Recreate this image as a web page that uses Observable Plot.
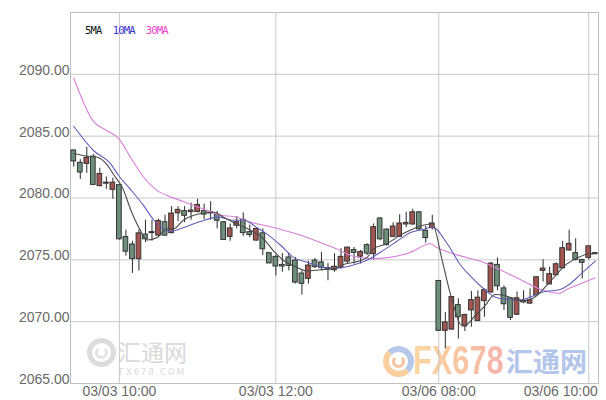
<!DOCTYPE html>
<html>
<head>
<meta charset="utf-8">
<script src="https://cdn.jsdelivr.net/npm/d3@7"></script>
<script src="https://cdn.jsdelivr.net/npm/@observablehq/plot@0.6"></script>
<style>
  html, body { margin: 0; padding: 0; background: #fff; }
  #wrap { position: relative; width: 606px; height: 400px; overflow: hidden; }
  #wm { position: absolute; left: 0; top: 0; width: 606px; height: 400px; z-index: 0; }
  #chart { position: absolute; left: 0; top: 0; z-index: 1; }
  #legend { position: absolute; left: 85px; top: 24px; z-index: 2; font: 10.5px "DejaVu Sans Mono", monospace; letter-spacing: -0.8px; white-space: pre; }
  .ring { position: absolute; border-radius: 50%; box-sizing: border-box; }
  .fx { position:absolute; left:413px; top:337px; font:bold 41px 'Liberation Sans'; transform:scaleX(0.75); transform-origin:left top;
        background: linear-gradient(90deg, #fbd6a2 0%, #f8c3a2 60%, #f4b2ab 100%); -webkit-background-clip: text; background-clip: text; color: transparent; }
</style>
</head>
<body>
<div id="wrap">
  <div id="wm">
    <div class="ring" style="left:87px;top:338px;width:29px;height:29px;border:5px solid #dcdcdc;"></div>
    <div class="ring" style="left:95px;top:346px;width:13px;height:13px;border:3px solid #e4e4e4;border-top-color:transparent;"></div>
    <div style="position:absolute;left:118px;top:334px;font:23px 'Noto Sans CJK SC';color:#d9d9d9;">汇通网</div>
    <div style="position:absolute;left:119px;top:367px;font:9px 'DejaVu Sans';letter-spacing:1.6px;color:#dcdcdc;">FX678.COM</div>
    <div class="ring" style="left:383px;top:346px;width:31px;height:31px;border:6px solid #b7c8ea;border-left-color:#f9cf9f;border-bottom-color:#f9cf9f;"></div>
    <div class="ring" style="left:392px;top:355px;width:13px;height:13px;border:3px solid #f6c39a;border-top-color:transparent;"></div>
    <div class="fx">FX678</div>
    <div style="position:absolute;left:506px;top:341px;font:bold 27px 'Noto Sans CJK SC';color:#b3c5ea;">汇通网</div>
  </div>
  <div id="chart"></div>
  <div id="legend"><span style="color:#111">5MA</span>  <span style="color:#3333cc">10MA</span>  <span style="color:#ee44cc">30MA</span></div>
</div>
<script>
// ---- data ----
const candleOpen = [2083.8,2082.8,2082.8,2083.3,2081.0,2081.2,2080.7,2081.0,2076.8,2076.2,
  2075.1,2077.0,2077.2,2077.0,2078.0,2077.2,2078.8,2078.9,2078.9,2078.9,
  2078.9,2078.8,2078.6,2078.0,2076.9,2077.8,2078.2,2077.2,2076.6,2077.1,
  2075.5,2075.2,2074.55,2075.15,2074.9,2073.85,2073.5,2074.9,2074.75,2074.3,
  2074.2,2074.4,2074.9,2075.75,2075.3,2076.15,2075.5,2078.3,2077.4,2076.9,
  2076.9,2077.9,2077.9,2078.8,2077.3,2077.6,2073.25,2069.3,2069.4,2071.3,
  2069.65,2070.95,2070.1,2071.7,2072.4,2074.55,2072.65,2071.85,2070.6,2071.65,
  2071.5,2072.2,2074.15,2073.05,2073.8,2074.35,2075.8,2075.5,2074.95,2075.2,2075.5];
const candleHigh = [2083.9,2083.1,2084.1,2083.5,2082.4,2081.7,2081.6,2081.0,2077.4,2076.5,
  2077.4,2078.2,2078.2,2078.3,2078.6,2079.3,2079.3,2079.3,2079.6,2079.9,
  2079.5,2079.7,2078.9,2078.1,2077.9,2078.5,2078.8,2077.8,2077.6,2077.5,
  2075.6,2075.35,2075.5,2075.55,2075.2,2074.1,2074.9,2075.1,2075.6,2074.7,
  2075.5,2075.9,2076.0,2076.0,2075.75,2076.3,2077.9,2078.4,2077.5,2078.0,
  2078.65,2078.85,2079.1,2078.9,2077.7,2078.6,2073.3,2070.75,2072.0,2071.85,
  2070.6,2072.45,2072.5,2072.65,2074.8,2075.15,2072.9,2071.95,2072.4,2072.5,
  2072.65,2073.6,2075.0,2074.4,2074.75,2076.5,2077.4,2076.7,2075.0,2076.15,2075.55];
const candleLow = [2082.5,2081.5,2082.0,2081.0,2080.9,2080.7,2079.9,2076.6,2075.3,2073.9,
  2074.1,2076.4,2076.5,2076.9,2076.9,2077.1,2078.1,2078.0,2078.2,2078.8,
  2078.25,2078.2,2077.5,2076.6,2076.5,2077.5,2076.9,2076.8,2076.5,2075.35,
  2074.7,2073.7,2074.0,2074.1,2073.05,2072.15,2073.05,2074.3,2074.1,2073.3,
  2074.0,2074.25,2074.65,2074.65,2074.65,2075.35,2074.95,2076.55,2076.1,2076.8,
  2076.8,2077.6,2077.8,2077.4,2076.35,2077.4,2069.2,2067.8,2069.3,2068.6,
  2069.2,2069.55,2070.0,2070.35,2072.3,2072.5,2070.9,2070.1,2070.5,2071.45,
  2071.4,2072.1,2073.2,2073.0,2073.7,2074.3,2075.7,2074.9,2073.45,2075.0,2075.45];
const candleClose = [2083.0,2082.1,2083.2,2081.1,2081.9,2081.2,2081.2,2076.7,2075.7,2075.1,
  2077.1,2076.7,2077.2,2078.1,2077.0,2078.7,2079.0,2078.6,2078.95,2079.4,
  2078.7,2078.8,2078.2,2076.65,2077.5,2078.0,2077.2,2077.05,2077.45,2075.9,
  2074.75,2074.5,2074.5,2074.55,2073.2,2073.1,2074.5,2074.45,2074.4,2074.25,
  2074.4,2075.2,2075.95,2075.6,2075.6,2075.55,2077.6,2076.7,2076.25,2077.65,
  2077.9,2077.95,2078.8,2077.5,2076.8,2077.9,2069.3,2069.9,2071.95,2070.4,
  2070.5,2071.7,2071.9,2072.5,2074.65,2072.9,2071.45,2070.35,2071.85,2071.6,
  2071.7,2073.55,2074.25,2073.8,2074.6,2075.9,2076.25,2075.05,2074.8,2076.05,2075.5];

const ma5Index = [0,1.8,3.6,5.1,6.1,7.4,9,10.2,11.3,12.8,14.3,15.3,16.8,18.4,20.4,21.5,23,25,27.1,29.1,
  30.6,32.2,34.2,35.8,37.8,39.9,41.9,43,45,46,48,50.1,51.6,53.6,55,56.5,57.5,58.5,59.3,60,
  61.6,63.1,64.6,66.2,67.7,69.2,71,72.5,74.1,75.6,77.1,78.7,80];
const ma5Value = [2083.6,2083.4,2083.3,2082.7,2081.9,2080.9,2078.7,2077.4,2076.6,2076.8,2077.5,2077.5,2078.2,2078.6,2078.8,2078.85,2078.45,2077.9,2077.4,2076.7,
  2075.75,2074.95,2074.4,2074.1,2074.2,2074.3,2074.7,2074.8,2075.2,2075.9,2076.3,2077.0,2077.4,2077.8,2077.9,2075.0,2072.8,2070.9,2069.8,2069.7,
  2070.5,2071.3,2072.2,2072.1,2071.8,2071.7,2072.1,2072.9,2073.85,2074.65,2075.1,2075.45,2075.5];

const ma10Index = [0,3.1,5.6,6.9,8.7,10.7,12.3,14.8,16.8,19.4,22.3,24.5,26.1,28.1,29.6,31.7,33.7,35.8,37.8,39.9,
  42.4,45.5,47,49.6,51.6,53.6,55,57.3,59.3,61,62.8,64.6,66.5,68.5,70.5,72,74.6,76,77.7,80];
const ma10Value = [2085.8,2083.8,2082.8,2081.8,2080.7,2079.4,2078.2,2077.3,2077.6,2078.1,2078.45,2078.2,2078.2,2077.6,2077.1,2076.2,2075.2,2074.8,2074.45,2074.3,
  2074.5,2075.1,2075.6,2076.5,2077.2,2077.45,2077.65,2076.3,2074.6,2073.6,2072.7,2072.0,2071.8,2071.75,2072.1,2072.4,2072.6,2073.0,2073.8,2074.9];

const ma30Index = [0,3,4.9,6.9,8.7,10.7,12.8,14.8,16.9,18.9,20.9,22.5,24.5,27.1,30.8,34.7,38.3,40.9,42.4,45.5,
  48.5,51.6,54.7,55.7,58.8,62.3,65.4,68.5,71.5,74.6,75.6,77.7,80];
const ma30Value = [2089.7,2086.2,2085.5,2084.8,2083.3,2081.7,2080.6,2080.1,2079.7,2079.3,2078.9,2078.6,2078.5,2078.05,2077.6,2077.0,2076.3,2075.75,2075.35,2075.1,
  2075.2,2075.6,2076.3,2076.0,2075.4,2074.9,2074.2,2073.4,2072.65,2072.3,2072.6,2073.05,2073.55];

const xTickIndex = [7, 31, 56, 79];
const xTickLabels = ["03/03 10:00", "03/03 12:00", "03/06 08:00", "03/06 10:00"];
const yTicks = [2065, 2070, 2075, 2080, 2085, 2090];

// ---- build tables ----
const candles = candleOpen.map((o, i) => ({
  i, open: o, high: candleHigh[i], low: candleLow[i], close: candleClose[i]
}));
const toLine = (idx, val) => idx.map((x, k) => ({i: x, v: val[k]}));
const ma5 = toLine(ma5Index, ma5Value);
const ma10 = toLine(ma10Index, ma10Value);
const ma30 = toLine(ma30Index, ma30Value);
const xTicks = xTickIndex.map((t, k) => ({t, label: xTickLabels[k]}));
const halfW = 0.36;

const chart = Plot.plot({
  width: 606,
  height: 400,
  marginLeft: 70,
  marginRight: 8,
  marginTop: 12,
  marginBottom: 17,
  style: {background: "transparent", fontFamily: "'Liberation Sans', sans-serif"},
  x: {type: "linear", domain: [-0.5, 80.5], axis: null},
  y: {domain: [2065, 2095], axis: null},
  marks: [
    Plot.gridY(yTicks, {stroke: "#c8c8c8", strokeOpacity: 1}),
    Plot.gridX(xTickIndex, {stroke: "#c8c8c8", strokeOpacity: 1}),
    Plot.frame({stroke: "#c0c0c0"}),
    Plot.ruleX(candles, {x: "i", y1: "low", y2: "high", stroke: "#2a2a2a", strokeWidth: 1}),
    Plot.rect(candles, {
      x1: d => d.i - halfW, x2: d => d.i + halfW,
      y1: "open", y2: "close",
      insetTop: -0.5, insetBottom: -0.5,
      fill: d => d.close > d.open ? "#a4554f" : (d.close < d.open ? "#6e8f7b" : "#444"),
      stroke: "#333", strokeWidth: 1
    }),
    Plot.line(ma30, {x: "i", y: "v", stroke: "#d97fd9", strokeWidth: 1.1, curve: "monotone-x"}),
    Plot.line(ma10, {x: "i", y: "v", stroke: "#6060b8", strokeWidth: 1.1, curve: "monotone-x"}),
    Plot.line(ma5, {x: "i", y: "v", stroke: "#4a4a4a", strokeWidth: 1.1, curve: "monotone-x"}),
    Plot.text(yTicks, {y: d => d, text: d => d.toFixed(2), frameAnchor: "left", textAnchor: "end",
      dx: -1, dy: -4, fontSize: 14, fill: "#6a6a6a"}),
    Plot.text(xTicks.slice(0, 3), {x: "t", text: "label", frameAnchor: "bottom", lineAnchor: "top",
      dy: 3, fontSize: 14, fill: "#6a6a6a"}),
    Plot.text(xTicks.slice(3), {x: "t", text: "label", frameAnchor: "bottom", lineAnchor: "top",
      textAnchor: "end", dx: 9, dy: 3, fontSize: 14, fill: "#6a6a6a"})
  ]
});
document.getElementById("chart").appendChild(chart);
</script>
</body>
</html>
